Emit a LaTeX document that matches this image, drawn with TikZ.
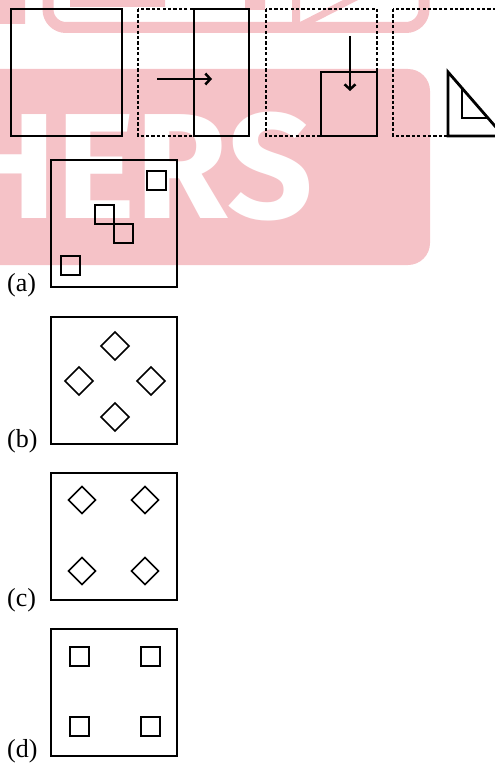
\documentclass[tikz,border=0pt]{standalone}
\usepackage{fontspec}
\setmainfont{Liberation Serif}
\newfontfamily\markfont{Fira Sans}
\usetikzlibrary{arrows.meta}
\definecolor{MarkPink}{HTML}{F5C2C7}

\begin{document}
\begin{tikzpicture}[x=1pt,y=-1pt,
  fold/.style={line width=2.8pt},
  crease/.style={line width=2.6pt,dash pattern=on 3.2pt off 2.2pt},
  panel/.style={line width=1.7pt},
  hole/.style={line width=1.5pt},
  optlabel/.style={anchor=west,inner sep=0pt,font=\fontsize{26}{28}\selectfont},
  foldarrow/.style={line width=2.5pt,-{Straight Barb[length=5pt,width=11pt]}}]
  \useasboundingbox (0,0) rectangle (495,768);
  \clip (0,0) rectangle (495,768);
  % watermark behind everything
  \fill[MarkPink,rounded corners=22pt] (-30,69) rectangle (430,265);
  \node[anchor=base east,inner sep=0pt,text=white,
    font=\markfont\bfseries\fontsize{150}{160}\selectfont] (mark) at (313,218) {HERS};
  \draw[MarkPink,line width=11pt,rounded corners=18pt] (48,-40) rectangle (424,27.5);
  \fill[MarkPink] (0,0) rectangle (25,24) (70,0) rectangle (165,7)
    (245,0) rectangle (265,10) (292,0) rectangle (300,22);
  \fill[MarkPink] (300,22) -- (343,0) -- (358,0) -- (315,22) -- cycle;
  % folding steps
  \draw[fold] (11,9) rectangle (122,136);
  \draw[crease] (138,9) rectangle (249,136);
  \draw[fold] (194,9) rectangle (249,136);
  \draw[foldarrow] (157,79) -- (212,79);
  \draw[crease] (266,9) rectangle (377,136);
  \draw[fold] (321,72) rectangle (377,136);
  \draw[foldarrow] (350,36) -- (350,91);
  \draw[crease] (393,9) rectangle (520,136);
  \draw[fold,line join=miter] (448,72) -- (448,136) -- (503.6,136) -- cycle;
  \draw[fold,line join=miter] (462,89) -- (462,118) -- (488,118);
  % answer options
  \foreach \y/\t/\ly in {160/a/285,317/b/441,473/c/600,629/d/751} {
    \draw[panel] (51,\y) rectangle ++(126,127);
    \node[optlabel] (opt\t) at (7,\ly) {(\t)};
  }
  \foreach \x/\y in {147/171,95/205,114/224,61/256,70/647,141/647,70/717,141/717}
    \draw[hole] (\x,\y) rectangle ++(19,19);
  \foreach \x/\y/\r in {115/346/14,79/381/14,151/381/14,115/417/14,
                        82/500/13.5,145/500/13.5,82/571/13.5,145/571/13.5}
    \draw[hole,shift={(\x,\y)}] (0,-\r) -- (\r,0) -- (0,\r) -- (-\r,0) -- cycle;
\end{tikzpicture}
\end{document}
